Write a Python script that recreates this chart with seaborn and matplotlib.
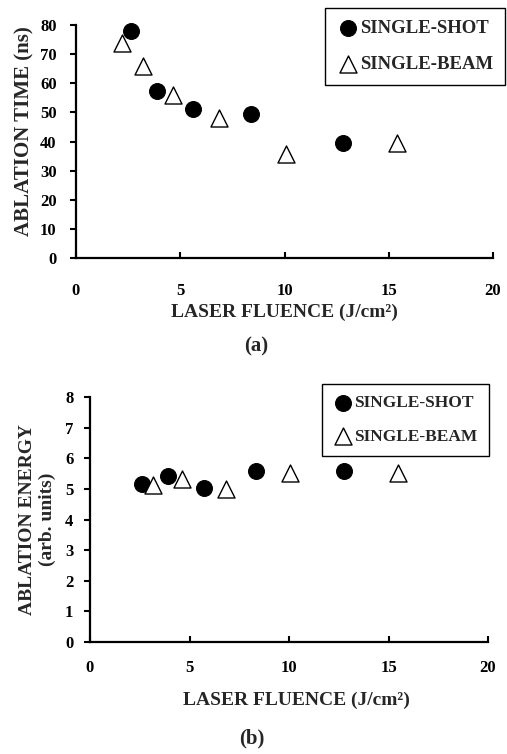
import matplotlib
matplotlib.use("Agg")
import matplotlib.pyplot as plt
import seaborn as sns
import pandas as pd

# ---- data ----
shot_fluence_a = [2.62, 3.87, 5.63, 8.38, 12.82]
shot_time = [77.9, 57.3, 51.0, 49.3, 39.4]
beam_fluence_a = [2.19, 3.20, 4.67, 6.84, 10.06, 15.38]
beam_time = [73.7, 65.9, 56.0, 48.0, 35.7, 39.5]

shot_fluence_b = [2.60, 3.90, 5.73, 8.34, 12.78]
shot_energy = [5.15, 5.41, 5.04, 5.58, 5.58]
beam_fluence_b = [3.18, 4.60, 6.83, 10.05, 15.50]
beam_energy = [5.12, 5.33, 4.98, 5.52, 5.51]

x_ticks = [0, 5, 10, 15, 20]
y_ticks_a = [0, 10, 20, 30, 40, 50, 60, 70, 80]
y_ticks_b = [0, 1, 2, 3, 4, 5, 6, 7, 8]

sns.set_theme(style="ticks")
plt.rcParams['font.family'] = ['Liberation Serif', 'DejaVu Serif']
plt.rcParams['font.weight'] = 'bold'
plt.rcParams['axes.labelweight'] = 'bold'

fig = plt.figure(figsize=(5.07, 7.54), dpi=100)
W, H = 507, 754

def axes_px(l, r, t, b):
    return fig.add_axes([l / W, 1 - b / H, (r - l) / W, (b - t) / H])

ax1 = axes_px(76, 493, 25, 258)
ax2 = axes_px(90, 488, 397, 642)

df_a_shot = pd.DataFrame({"fluence": shot_fluence_a, "value": shot_time})
df_a_beam = pd.DataFrame({"fluence": beam_fluence_a, "value": beam_time})
df_b_shot = pd.DataFrame({"fluence": shot_fluence_b, "value": shot_energy})
df_b_beam = pd.DataFrame({"fluence": beam_fluence_b, "value": beam_energy})

def draw(ax, dshot, dbeam, yticks, ylabel, ylabel_size, legend_anchor, leg_size, xpad, ypad):
    sns.scatterplot(data=dshot, x="fluence", y="value", ax=ax, marker="o",
                    s=130, color="black", edgecolor="black", linewidth=0.8,
                    label="SINGLE-SHOT", zorder=3, clip_on=False)
    sns.scatterplot(data=dbeam, x="fluence", y="value", ax=ax, marker="^",
                    s=150, color="white", edgecolor="black", linewidth=1.0,
                    label="SINGLE-BEAM", zorder=3, clip_on=False)
    ax.set_xlim(0, 20)
    ax.set_ylim(yticks[0], yticks[-1])
    ax.set_xticks(x_ticks)
    ax.set_yticks(yticks)
    ax.set_xticklabels([str(v) for v in x_ticks], fontsize=12, fontweight='bold')
    ax.set_yticklabels([str(v) for v in yticks], fontsize=12, fontweight='bold')
    for sp in ["top", "right"]:
        ax.spines[sp].set_visible(False)
    for sp in ["left", "bottom"]:
        ax.spines[sp].set_linewidth(1.6)
        ax.spines[sp].set_color("black")
    ax.tick_params(axis="x", direction="in", length=4, width=1.5, pad=xpad, colors="black")
    ax.tick_params(axis="y", direction="out", length=4, width=1.5, pad=ypad, colors="black")
    ax.set_xlabel("")
    ax.set_ylabel(ylabel, fontsize=ylabel_size, fontweight='bold', linespacing=1.25)
    ax.grid(False)
    ax.set_facecolor("white")
    leg = ax.legend(loc="upper right", bbox_to_anchor=legend_anchor,
                    bbox_transform=fig.transFigure, frameon=True, fancybox=False,
                    edgecolor="black", framealpha=1,
                    handletextpad=0.1, labelspacing=1.0, borderpad=0.65,
                    handlelength=1.1, borderaxespad=0,
                    prop={'weight': 'bold', 'size': leg_size, 'family': 'Liberation Serif'})
    leg.get_frame().set_linewidth(1.0)

draw(ax1, df_a_shot, df_a_beam, y_ticks_a, "ABLATION TIME (ns)", 15,
     (505 / W, 1 - 8 / H), 13.5, 18, 10)
draw(ax2, df_b_shot, df_b_beam, y_ticks_b, "ABLATION ENERGY\n(arb. units)", 14,
     (489 / W, 1 - 384 / H), 12.5, 13, 8)

ax1.yaxis.set_label_coords(-0.1, 0.543)
ax2.yaxis.set_label_coords(-0.085, 0.50)

fig.text(284 / W, 1 - 312 / H, "LASER FLUENCE (J/cm²)", ha="center", va="center",
         fontsize=14, fontweight="bold")
fig.text(256 / W, 1 - 346 / H, "(a)", ha="center", va="center", fontsize=15, fontweight="bold")
fig.text(296 / W, 1 - 700 / H, "LASER FLUENCE (J/cm²)", ha="center", va="center",
         fontsize=14, fontweight="bold")
fig.text(252 / W, 1 - 738 / H, "(b)", ha="center", va="center", fontsize=15, fontweight="bold")

fig.savefig("out.png", dpi=100, facecolor="white")
